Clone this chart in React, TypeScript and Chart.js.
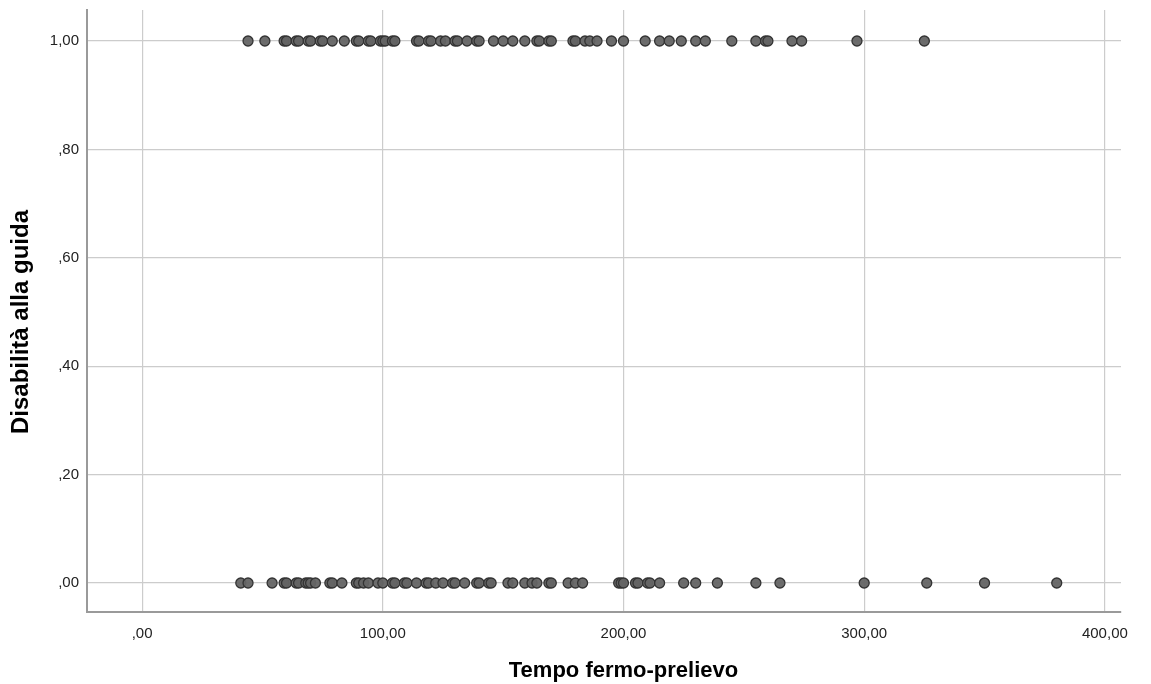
import React, { useEffect, useRef } from "react";
import { Chart, registerables } from "chart.js";

Chart.register(...registerables);

// Tempo fermo-prelievo values for cases with Disabilità alla guida = 1
const TOP_X = [44, 51, 59, 60, 64, 65, 69, 70, 74, 75, 79, 84, 89, 90, 94, 95, 99, 100, 101, 104, 105, 114, 115, 119, 120, 124, 126, 130, 131, 135, 139, 140, 146, 150, 154, 159, 164, 165, 169, 170, 179, 180, 184, 186, 189, 195, 200, 209, 215, 219, 224, 230, 234, 245, 255, 259, 260, 270, 274, 297, 325];
// Tempo fermo-prelievo values for cases with Disabilità alla guida = 0
const BOTTOM_X = [41, 44, 54, 59, 60, 64, 65, 68, 69, 70, 72, 78, 79, 83, 89, 90, 92, 94, 98, 100, 104, 105, 109, 110, 114, 118, 119, 122, 125, 129, 130, 134, 139, 140, 144, 145, 152, 154, 159, 162, 164, 169, 170, 177, 180, 183, 198, 199, 200, 205, 206, 210, 211, 215, 225, 230, 239, 255, 265, 300, 326, 350, 380];
const TOP_Y = 1;
const BOTTOM_Y = 0;

const X_TICKS = [0, 100, 200, 300, 400];
const Y_TICKS = [0, 0.2, 0.4, 0.6, 0.8, 1.0];
const X_TITLE = "Tempo fermo-prelievo";
const Y_TITLE = "Disabilità alla guida";

const FONT = "'Liberation Sans', Arial, sans-serif";

const fmt = (v: number) => {
  const s = v.toFixed(2).replace(".", ",");
  return s.startsWith("0,") ? s.slice(1) : s;
};

// Axis titles centred over the tick range (as SPSS does)
const axisTitles = {
  id: "axisTitles",
  afterDraw(chart: any) {
    const ctx = chart.ctx;
    const xs = chart.scales.x;
    const ys = chart.scales.y;
    const xMid =
      (xs.getPixelForValue(X_TICKS[0]) + xs.getPixelForValue(X_TICKS[X_TICKS.length - 1])) / 2;
    const yMid =
      (ys.getPixelForValue(Y_TICKS[0]) + ys.getPixelForValue(Y_TICKS[Y_TICKS.length - 1])) / 2;
    ctx.save();
    ctx.fillStyle = "#000";
    ctx.textAlign = "center";
    ctx.textBaseline = "alphabetic";
    ctx.font = `bold 22px ${FONT}`;
    ctx.fillText(X_TITLE, xMid, 677);
    ctx.translate(28, yMid + 10);
    ctx.rotate(-Math.PI / 2);
    ctx.font = `bold 24px ${FONT}`;
    ctx.fillText(Y_TITLE, 0, 0);
    ctx.restore();
  },
};

export default function App() {
  const ref = useRef<HTMLCanvasElement | null>(null);
  useEffect(() => {
    if (!ref.current) return;
    const points = [
      ...TOP_X.map((x) => ({ x, y: TOP_Y })),
      ...BOTTOM_X.map((x) => ({ x, y: BOTTOM_Y })),
    ];
    const chart = new Chart(ref.current, {
      type: "scatter",
      data: {
        datasets: [
          {
            data: points,
            backgroundColor: "rgba(100,100,100,0.95)",
            borderColor: "#333333",
            borderWidth: 1.3,
            pointRadius: 5,
            pointHoverRadius: 5,
          },
        ],
      },
      options: {
        responsive: false,
        animation: false,
        layout: { padding: { top: 10, right: 30, left: 0, bottom: 0 } },
        plugins: { legend: { display: false }, tooltip: { enabled: false } },
        scales: {
          x: {
            type: "linear",
            min: -22.9,
            max: 406.7,
            afterBuildTicks: (scale: any) => {
              scale.ticks = X_TICKS.map((v) => ({ value: v }));
            },
            afterFit: (scale: any) => {
              scale.height = 72;
              scale.paddingLeft = 0;
              scale.paddingRight = 0;
            },
            grid: { color: "#cccccc", lineWidth: 1.2, drawTicks: false },
            border: { display: true, color: "#9a9a9a", width: 2 },
            ticks: {
              callback: (v: any) => fmt(Number(v)),
              color: "#222",
              font: { family: FONT, size: 15 },
              padding: 13,
              maxRotation: 0,
            },
          },
          y: {
            type: "linear",
            min: -0.0535,
            max: 1.0572,
            afterBuildTicks: (scale: any) => {
              scale.ticks = Y_TICKS.map((v) => ({ value: v }));
            },
            afterFit: (scale: any) => {
              scale.width = 87;
              scale.paddingTop = 0;
              scale.paddingBottom = 0;
            },
            grid: { color: "#cccccc", lineWidth: 1.2, drawTicks: false },
            border: { display: true, color: "#9a9a9a", width: 2 },
            ticks: {
              callback: (v: any) => fmt(Number(v)),
              color: "#222",
              font: { family: FONT, size: 15 },
              padding: 8,
            },
          },
        },
      },
      plugins: [axisTitles],
    });
    return () => chart.destroy();
  }, []);
  return (
    <canvas
      ref={ref}
      width={1151}
      height={684}
      style={{ position: "absolute", left: 0, top: 0, width: 1151, height: 684 }}
    />
  );
}
